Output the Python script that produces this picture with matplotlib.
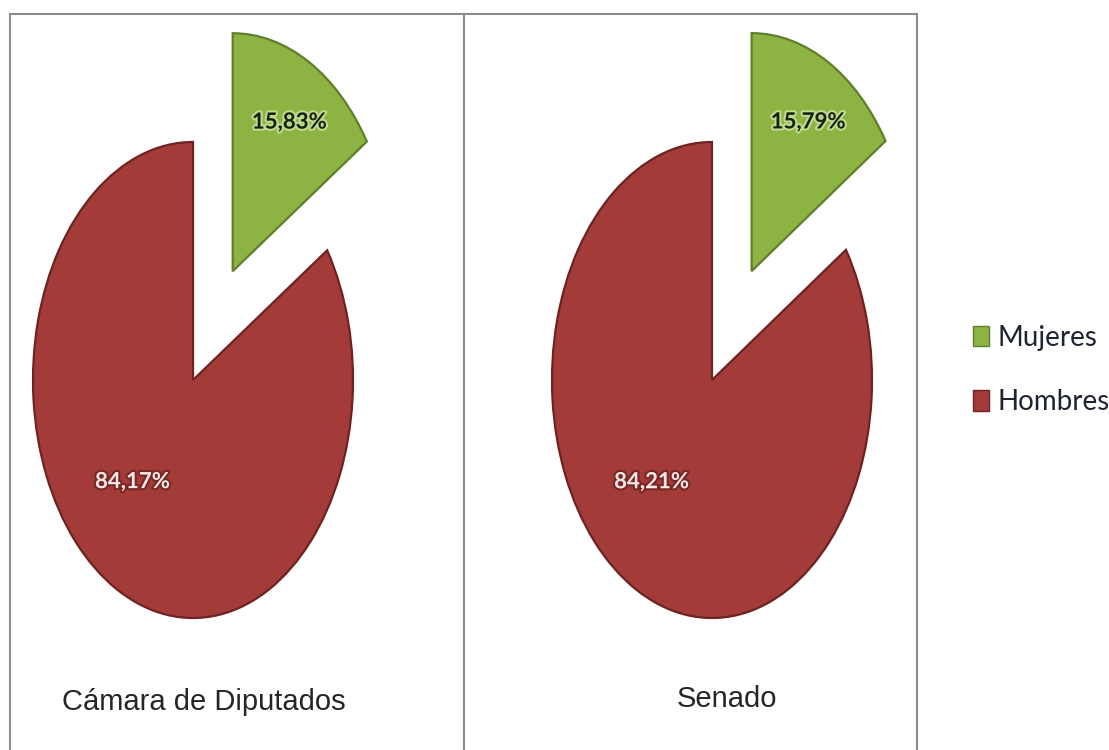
import matplotlib.pyplot as plt
import matplotlib.patheffects as pe
from matplotlib.patches import Patch
import numpy as np

# Data
categories = ['Mujeres', 'Hombres']
chambers = ['Cámara de Diputados', 'Senado']
diputados = [15.83, 84.17]
senado = [15.79, 84.21]

colors = ['#8db443', '#a33b39']
edges = ['#5f7f2a', '#6e2322']
label_colors = ['#14240a', '#fbe6e6']
glow_colors = ['#e8f3c8', '#5a1a18']
label_dist = [0.72, 0.57]
label_turn = [-1, -13]  # degrees off the wedge's mid angle

W, H = 1109, 750
fig = plt.figure(figsize=(W / 100, H / 100), dpi=100)


def px_axes(x0, x1, y0, y1):
    # pixel box (top-left origin) -> figure axes
    return fig.add_axes([x0 / W, 1 - y1 / H, (x1 - x0) / W, (y1 - y0) / H])


def draw_pie(ax, values, title, box, center, title_pos):
    x0, x1, y0, y1 = box
    cx, cy = center
    rx, ry = 160, 238
    wedges, _ = ax.pie(values, colors=colors, startangle=90, counterclock=False,
                       explode=[0.52, 0], radius=1,
                       wedgeprops=dict(linewidth=1.6))
    for w, ec in zip(wedges, edges):
        w.set_edgecolor(ec)
    # stretch to the elliptical look of the original
    ax.set_aspect('auto')
    ax.set_xlim((x0 - cx) / rx, (x1 - cx) / rx)
    ax.set_ylim((cy - y1) / ry, (cy - y0) / ry)

    for i, (w, v) in enumerate(zip(wedges, values)):
        mid = np.deg2rad((w.theta1 + w.theta2) / 2 + label_turn[i])
        wx, wy = w.center
        tx = wx + label_dist[i] * np.cos(mid)
        ty = wy + label_dist[i] * np.sin(mid)
        txt = ax.text(tx, ty, f"{v:.2f}%".replace('.', ','), ha='center', va='center',
                      fontsize=16, fontweight='bold', family='Lato',
                      color=label_colors[i])
        txt.set_path_effects([pe.withStroke(linewidth=3, foreground=glow_colors[i], alpha=0.6)])

    ax.text(title_pos[0], title_pos[1], title, transform=ax.transAxes,
            ha='center', va='center', fontsize=21, family='Liberation Sans',
            color='#262626')

    ax.set_frame_on(True)
    for s in ['left', 'right', 'top']:
        ax.spines[s].set_visible(True)
        ax.spines[s].set_color('#8c8c8c')
        ax.spines[s].set_linewidth(1.5)
    ax.spines['bottom'].set_visible(False)
    ax.set_xticks([])
    ax.set_yticks([])
    return wedges


ax1 = px_axes(10, 464, 14, 752)
draw_pie(ax1, diputados, chambers[0], (10, 464, 14, 752), (193, 380), (0.427, 0.068))
ax2 = px_axes(464, 917, 14, 752)
draw_pie(ax2, senado, chambers[1], (464, 917, 14, 752), (712, 380), (0.581, 0.072))

handles = [Patch(facecolor=c, edgecolor=e, linewidth=1) for c, e in zip(colors, edges)]
fig.legend(handles, categories, loc='center left', bbox_to_anchor=(948 / W, 1 - 370 / H),
           frameon=False, handlelength=0.58, handleheight=0.75, handletextpad=0.3,
           labelspacing=1.38, prop=dict(family='Lato', size=20), labelcolor='#1f2433')

fig.savefig('out.png', dpi=100, facecolor='white')
